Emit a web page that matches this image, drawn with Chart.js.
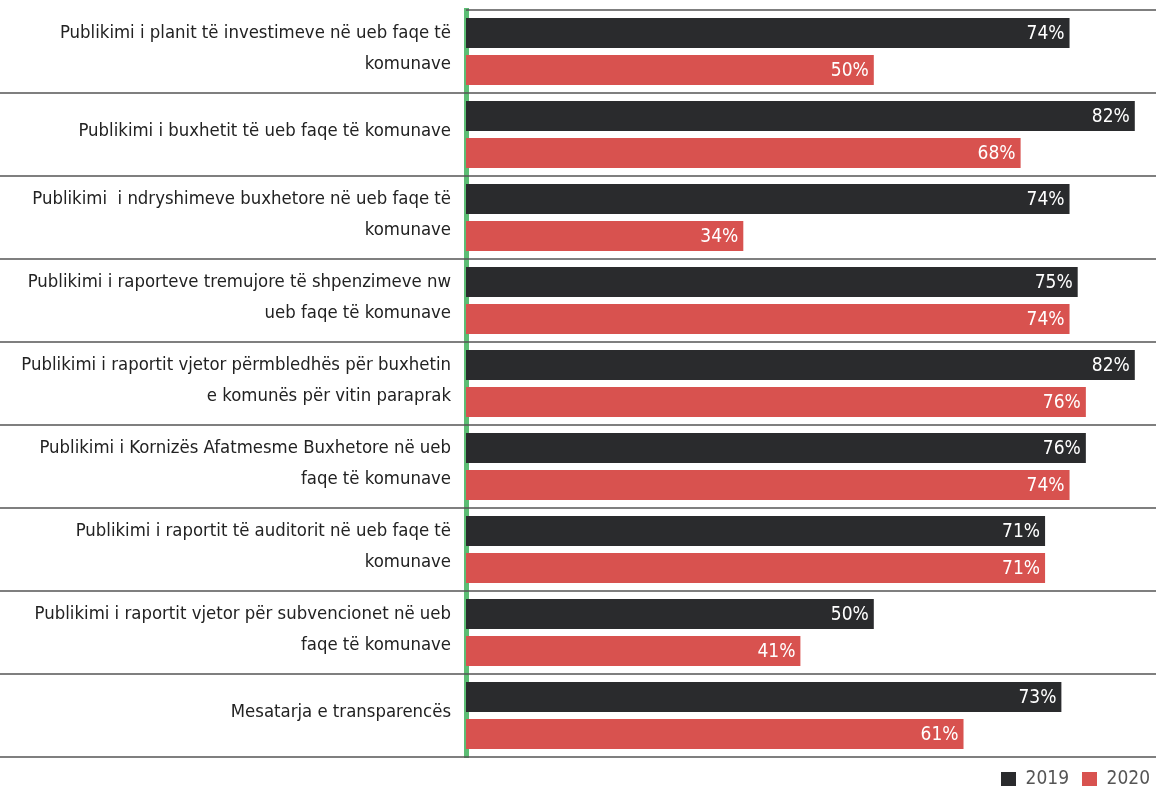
<!DOCTYPE html>
<html>
<head>
<meta charset="utf-8">
<script src="https://cdn.jsdelivr.net/npm/chart.js@4.4.1/dist/chart.umd.min.js"></script>
<style>
  html, body { margin: 0; padding: 0; background: #fff; }
</style>
</head>
<body>
<canvas id="chart" width="1156" height="786"></canvas>
<script>
// categories (multi-line labels as in the original)
const categories = [
  ['Publikimi i planit të investimeve në ueb faqe të', 'komunave'],
  'Publikimi i buxhetit të ueb faqe të komunave',
  ['Publikimi  i ndryshimeve buxhetore në ueb faqe të', 'komunave'],
  ['Publikimi i raporteve tremujore të shpenzimeve nw', 'ueb faqe të komunave'],
  ['Publikimi i raportit vjetor përmbledhës për buxhetin', 'e komunës për vitin paraprak'],
  ['Publikimi i Kornizës Afatmesme Buxhetore në ueb', 'faqe të komunave'],
  ['Publikimi i raportit të auditorit në ueb faqe të', 'komunave'],
  ['Publikimi i raportit vjetor për subvencionet në ueb', 'faqe të komunave'],
  'Mesatarja e transparencës'
];
const values2019 = [74, 82, 74, 75, 82, 76, 71, 50, 73];
const values2020 = [50, 68, 34, 74, 76, 74, 71, 41, 61];
const seriesNames = ['2019', '2020'];

const FONT = "'Liberation Sans Narrow', 'DejaVu Sans Condensed', 'Roboto', sans-serif";
Chart.defaults.font.family = FONT;

// lines between the rows, reaching into the label area
const rowLines = {
  id: 'rowLines',
  beforeDatasetsDraw(chart) {
    const { ctx, chartArea, scales: { y } } = chart;
    const n = categories.length;
    ctx.save();
    ctx.strokeStyle = '#555';
    ctx.lineWidth = 1.6;
    for (let i = 0; i <= n; i++) {
      let yy;
      if (i === 0) yy = chartArea.top;
      else if (i === n) yy = chartArea.bottom;
      else yy = (y.getPixelForValue(i - 1) + y.getPixelForValue(i)) / 2;
      ctx.beginPath();
      ctx.moveTo(i === 0 ? chartArea.left : 0, yy);
      ctx.lineTo(chart.width, yy);
      ctx.stroke();
    }
    ctx.restore();
  }
};

// white value labels inside the end of each bar
const valueLabels = {
  id: 'valueLabels',
  afterDatasetsDraw(chart) {
    const ctx = chart.ctx;
    ctx.save();
    ctx.fillStyle = '#fff';
    ctx.font = '19px ' + FONT;
    ctx.textAlign = 'right';
    ctx.textBaseline = 'middle';
    chart.data.datasets.forEach((ds, di) => {
      chart.getDatasetMeta(di).data.forEach((bar, i) => {
        ctx.fillText(ds.data[i] + '%', bar.x - 5, bar.y + 1);
      });
    });
    ctx.restore();
  }
};

new Chart(document.getElementById('chart'), {
  type: 'bar',
  data: {
    labels: categories,
    datasets: [
      { label: seriesNames[0], data: values2019, backgroundColor: '#2a2b2d',
        categoryPercentage: 0.89, barPercentage: 0.81 },
      { label: seriesNames[1], data: values2020, backgroundColor: '#d8524f',
        categoryPercentage: 0.89, barPercentage: 0.81 }
    ]
  },
  options: {
    indexAxis: 'y',
    responsive: false,
    animation: false,
    layout: { padding: { top: 10, right: -7, left: 0, bottom: -13 } },
    scales: {
      x: { display: false, min: 0, max: 84.6 },
      y: {
        z: 1,
        grid: { display: false, drawTicks: false },
        border: { display: true, color: '#5cbd74', width: 5 },
        ticks: {
          color: '#222',
          padding: 15,
          labelOffset: -3,
          font: { size: 18.4, lineHeight: 1.68 }
        },
        afterFit(scale) {
          scale.width = 466;
          scale.paddingTop = 0;
          scale.paddingBottom = 0;
        }
      }
    },
    plugins: {
      legend: {
        position: 'bottom',
        align: 'end',
        labels: {
          boxWidth: 15,
          boxHeight: 15,
          padding: 13,
          color: '#555',
          font: { size: 19 }
        }
      },
      tooltip: { enabled: false }
    }
  },
  plugins: [rowLines, valueLabels]
});
</script>
</body>
</html>
